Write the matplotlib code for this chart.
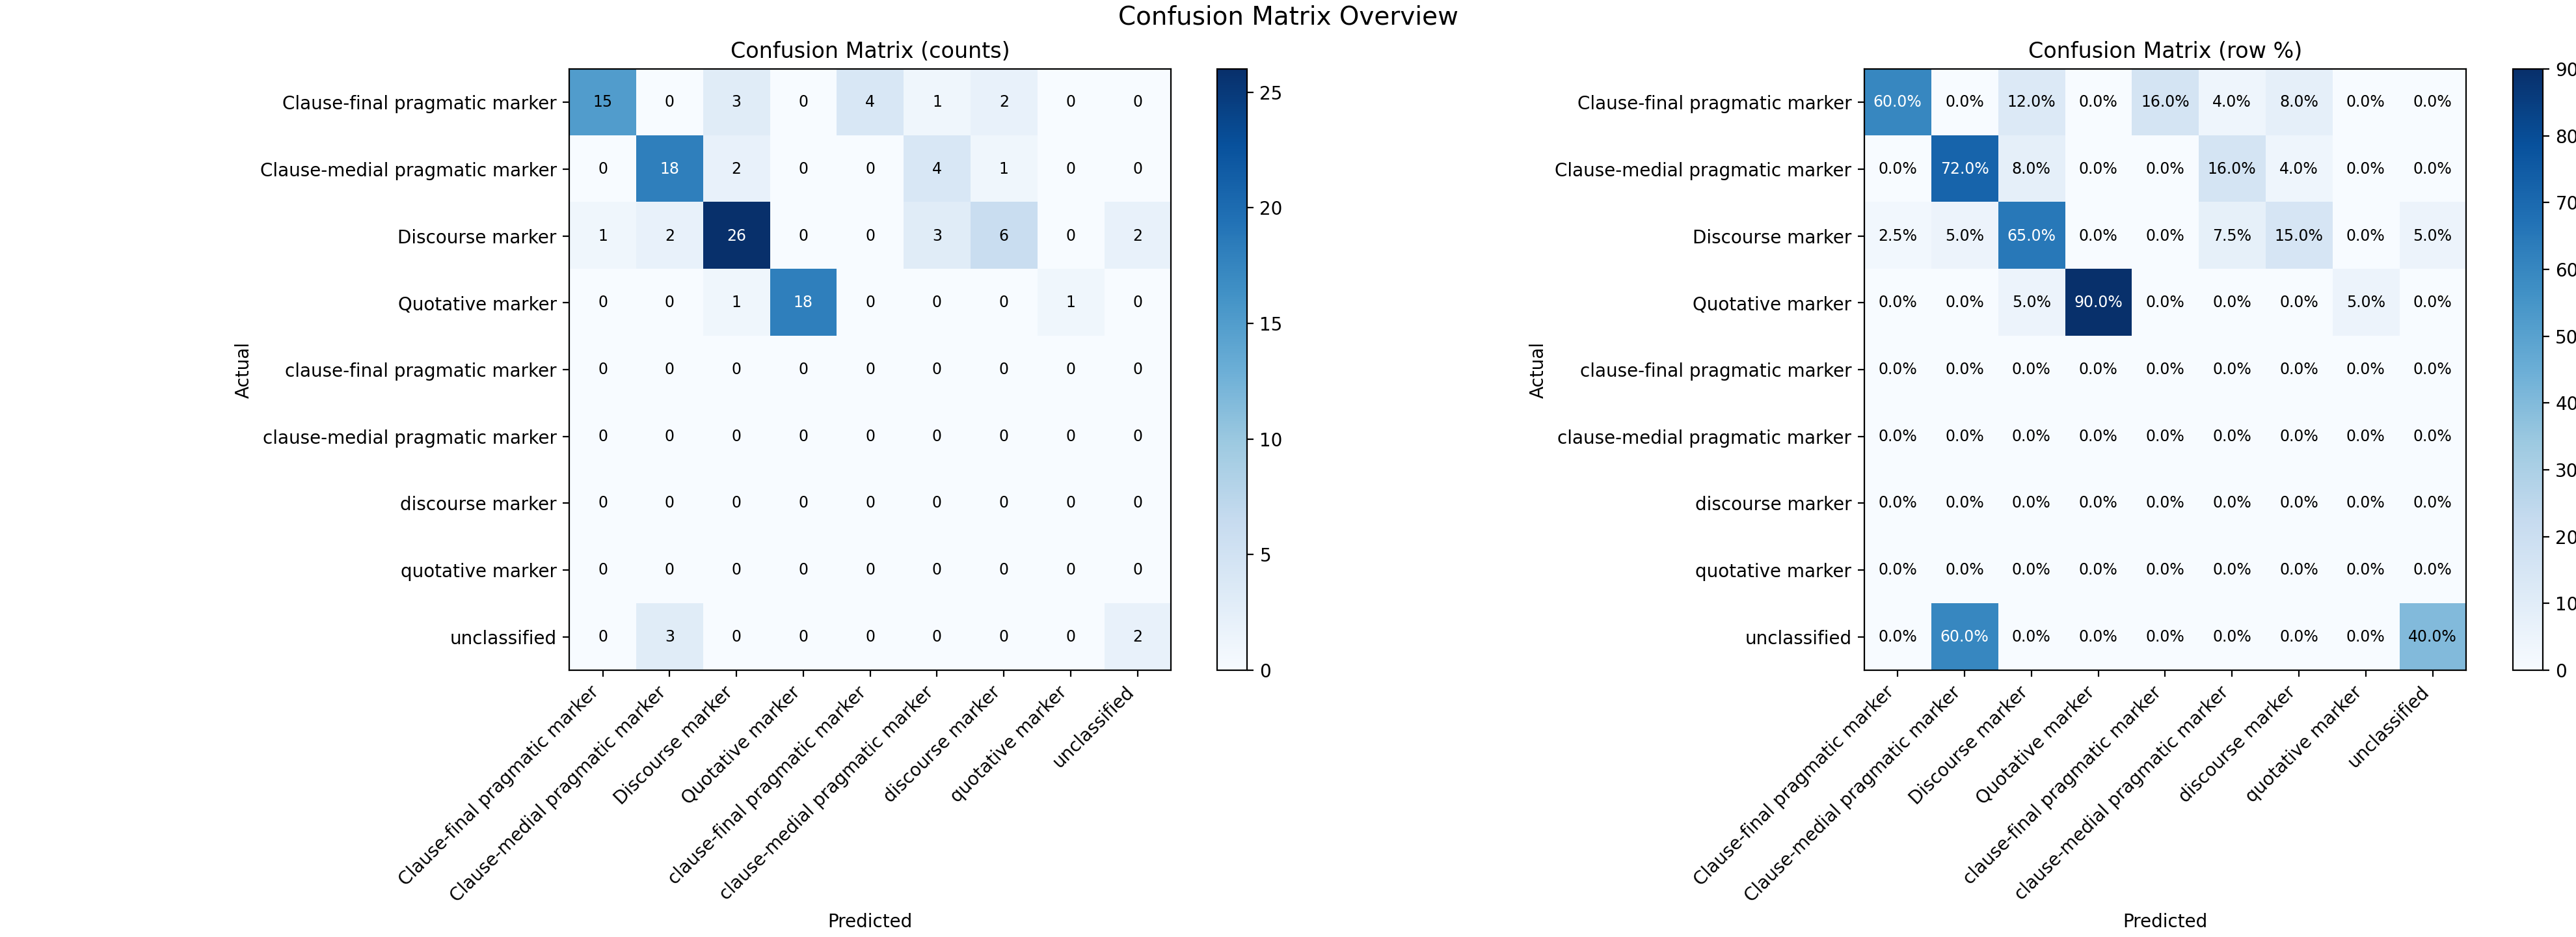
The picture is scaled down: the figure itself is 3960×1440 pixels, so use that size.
import numpy as np
import matplotlib
matplotlib.use("Agg")
import matplotlib.pyplot as plt

# Labels and counts
labels = [
    "Clause-final pragmatic marker",
    "Clause-medial pragmatic marker",
    "Discourse marker",
    "Quotative marker",
    "clause-final pragmatic marker",
    "clause-medial pragmatic marker",
    "discourse marker",
    "quotative marker",
    "unclassified",
]

counts = np.array([
    [15, 0, 3, 0, 4, 1, 2, 0, 0],
    [0, 18, 2, 0, 0, 4, 1, 0, 0],
    [1, 2, 26, 0, 0, 3, 6, 0, 2],
    [0, 0, 1, 18, 0, 0, 0, 1, 0],
    [0, 0, 0, 0, 0, 0, 0, 0, 0],
    [0, 0, 0, 0, 0, 0, 0, 0, 0],
    [0, 0, 0, 0, 0, 0, 0, 0, 0],
    [0, 0, 0, 0, 0, 0, 0, 0, 0],
    [0, 3, 0, 0, 0, 0, 0, 0, 2],
])

# row-normalised percentages (empty rows stay at 0)
row_sums = counts.sum(axis=1, keepdims=True)
row_pct = np.divide(counts * 100.0, row_sums,
                    out=np.zeros(counts.shape), where=row_sums > 0)

fig = plt.figure(figsize=(19.8, 7.2), dpi=200)
fig.suptitle("Confusion Matrix Overview", fontsize=14, y=0.995)

ax1 = fig.add_axes([0.2210, 0.2847, 0.2336, 0.6417])
cax1 = fig.add_axes([0.4725, 0.2847, 0.0116, 0.6417])
ax2 = fig.add_axes([0.7237, 0.2847, 0.2336, 0.6417])
cax2 = fig.add_axes([0.9755, 0.2847, 0.0116, 0.6417])


def draw_matrix(ax, cax, data, title, fmt):
    im = ax.imshow(data, cmap="Blues", interpolation="nearest", aspect="auto")
    fig.colorbar(im, cax=cax)
    ax.set_title(title)
    ax.set_xticks(np.arange(len(labels)))
    ax.set_yticks(np.arange(len(labels)))
    ax.set_xticklabels(labels, rotation=45, ha="right")
    ax.set_yticklabels(labels)
    ax.set_xlabel("Predicted")
    ax.set_ylabel("Actual")
    thresh = data.max() * 0.6
    for i in range(data.shape[0]):
        for j in range(data.shape[1]):
            ax.text(j, i, fmt(data[i, j]), ha="center", va="center", fontsize=8.5,
                    color="white" if data[i, j] > thresh else "black")


draw_matrix(ax1, cax1, counts, "Confusion Matrix (counts)", lambda v: f"{int(v)}")
draw_matrix(ax2, cax2, row_pct, "Confusion Matrix (row %)", lambda v: f"{v:.1f}%")

fig.savefig("out.png", dpi=200)
